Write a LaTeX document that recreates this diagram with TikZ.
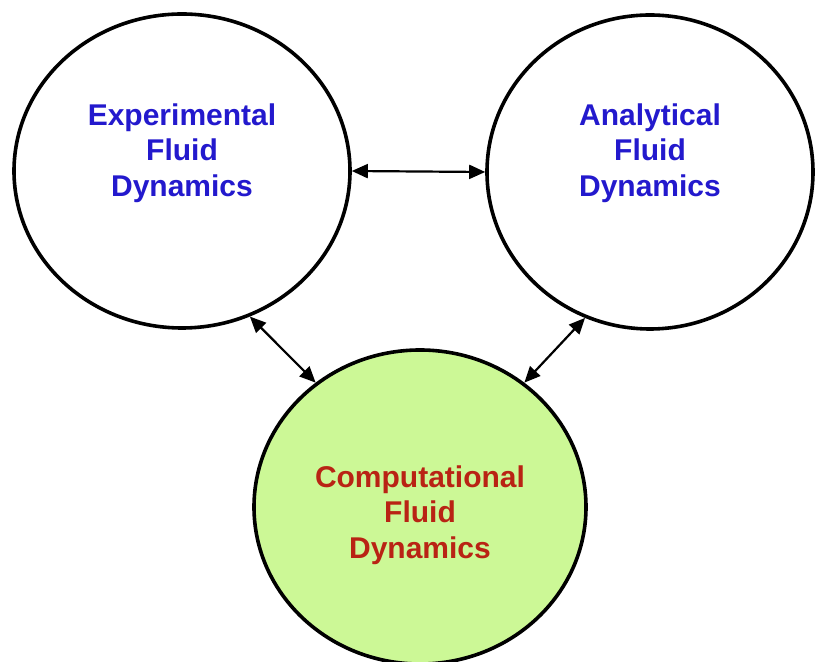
\documentclass[tikz,border=0pt]{standalone}
\usepackage{fontspec}
\setmainfont{Liberation Sans}
\usepackage{xcolor}
\usepackage{tikz}
\usetikzlibrary{shapes.geometric,arrows.meta,positioning}
\definecolor{fdblue}{RGB}{35,25,205}
\definecolor{fdred}{RGB}{185,35,20}
\definecolor{fdgreen}{RGB}{204,248,150}

\begin{document}
\begin{tikzpicture}[x=0.5pt,y=-0.5pt,
  font=\fontsize{15}{17.75}\selectfont\bfseries,
  field/.style={ellipse,draw,line width=1.8pt,inner sep=0pt,
                minimum width=168pt,minimum height=157pt},
  lbl/.style={align=center,text=fdblue},
  arr/.style={{Triangle[length=8pt,width=7pt]}-{Triangle[length=8pt,width=7pt]},line width=1.1pt}]
\useasboundingbox (0,0) rectangle (816,662);
\node[field,label={[lbl,yshift=9pt]center:Experimental\\Fluid\\Dynamics}] (efd) at (182,171) {};
\node[field,minimum width=163pt,label={[lbl,yshift=9.5pt]center:Analytical\\Fluid\\Dynamics}] (afd) at (650,172) {};
\node[field,fill=fdgreen,minimum width=166pt,label={[lbl,text=fdred,yshift=-4pt]center:Computational\\Fluid\\Dynamics}] (cfd) at (420,507) {};
\draw[arr] (efd.east) -- (afd.west);
\draw[arr] (efd.295) -- (cfd.130); \draw[arr] (afd.246) -- (cfd.50);
\end{tikzpicture}
\end{document}
